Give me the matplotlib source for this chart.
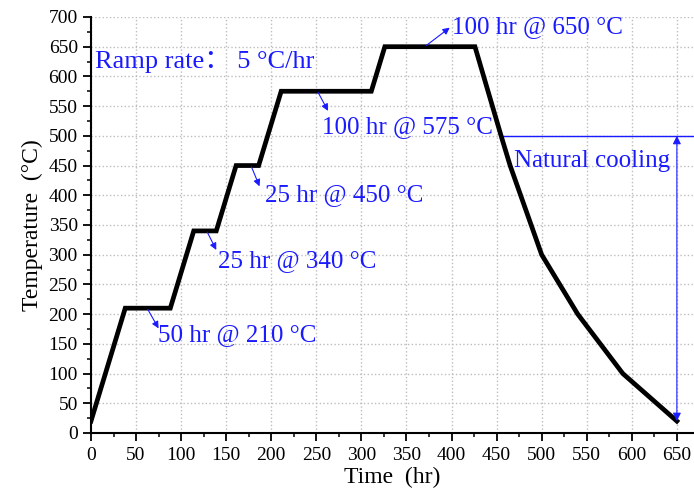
import matplotlib.pyplot as plt
from matplotlib.ticker import MultipleLocator

# heat treatment schedule
time_hr = [0, 38, 88, 114, 139, 161, 186, 211, 311, 326, 426, 455, 465, 500, 540, 590, 650]
temp_c = [20, 210, 210, 340, 340, 450, 450, 575, 575, 650, 650, 500, 450, 300, 200, 100, 20]

# annotations: label, arrow start (on curve), arrow head, text anchor
labels = ['50 hr @ 210 \u00b0C', '25 hr @ 340 \u00b0C', '25 hr @ 450 \u00b0C',
          '100 hr @ 575 \u00b0C', '100 hr @ 650 \u00b0C']
arrow_start = [(63, 208), (129, 338), (178, 448), (252, 573), (372, 652)]
arrow_head = [(75, 176), (139, 308), (187, 415), (263, 542), (398, 682)]
text_pos = [(74, 165), (141, 290), (193, 400), (256, 515), (401, 683)]

cool_start = 500
cool_end = 20
cool_time = 650

plt.rcParams['font.family'] = ['Liberation Serif', 'Noto Sans CJK SC', 'DejaVu Sans']

fig = plt.figure(figsize=(6.94, 4.95), dpi=100)
ax = fig.add_axes([0.1311, 0.1253, 0.8689, 0.8404])

ax.plot(time_hr, temp_c, color='black', lw=3.4, solid_joinstyle='miter', zorder=3)

blue = '#1a1aff'
for lab, s, h, t in zip(labels, arrow_start, arrow_head, text_pos):
    ax.annotate('', xy=h, xytext=s,
                arrowprops=dict(arrowstyle='-|>', color=blue, lw=0.8, mutation_scale=10,
                                shrinkA=0, shrinkB=0))
    ax.text(t[0], t[1], lab, color=blue, fontsize=18, va='center', ha='left')

ax.text(5, 625, 'Ramp rate\uff1a 5 \u00b0C/hr', color=blue, fontsize=19, va='center', ha='left')

# natural cooling marker
ax.plot([457, 669], [cool_start, cool_start], color=blue, lw=1.0, zorder=2)
ax.annotate('', xy=(cool_time, cool_end), xytext=(cool_time, cool_start),
            arrowprops=dict(arrowstyle='<|-|>', color=blue, lw=0.8, mutation_scale=12,
                            shrinkA=0, shrinkB=0))
ax.text(469, 458, 'Natural cooling', color=blue, fontsize=18, va='center', ha='left')

ax.set_xlim(0, 669)
ax.set_ylim(0, 700)
ax.xaxis.set_major_locator(MultipleLocator(50))
ax.xaxis.set_minor_locator(MultipleLocator(25))
ax.yaxis.set_major_locator(MultipleLocator(50))
ax.yaxis.set_minor_locator(MultipleLocator(25))
ax.grid(True, which='major', color='#bdbdbd', linestyle=':', lw=1.0)
ax.set_axisbelow(True)

for side in ['top', 'right']:
    ax.spines[side].set_visible(False)
for side in ['left', 'bottom']:
    ax.spines[side].set_linewidth(1.5)

ax.tick_params(which='major', direction='out', length=6, width=1.3, labelsize=14, colors='black')
ax.tick_params(which='minor', direction='out', length=3, width=1.1)
ax.tick_params(axis='x', pad=4)

ax.set_xlabel('Time  (hr)', fontsize=17, labelpad=2)
ax.set_ylabel('Temperature  (\u00b0C)', fontsize=17, labelpad=4)

fig.savefig('out.png', dpi=100)
